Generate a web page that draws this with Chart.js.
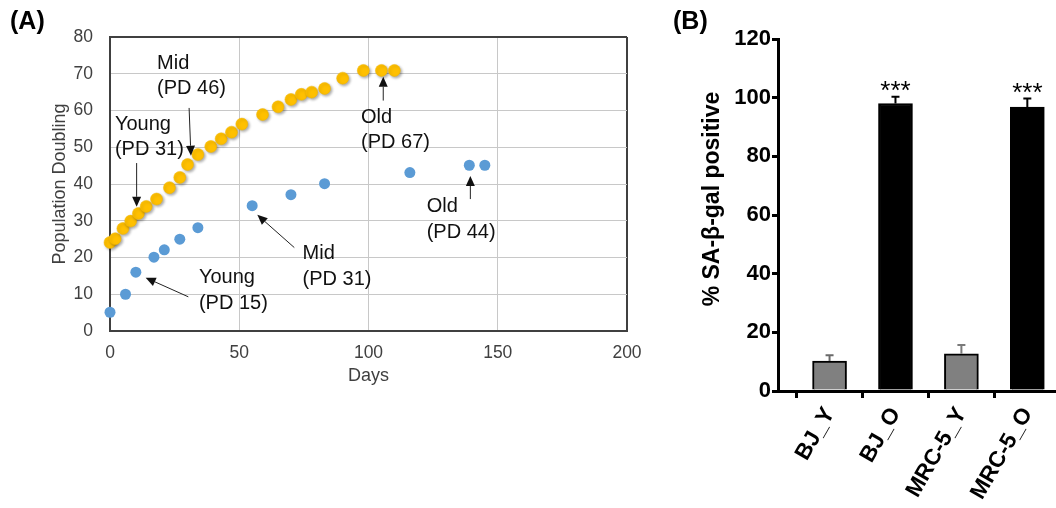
<!DOCTYPE html>
<html><head><meta charset="utf-8">
<script src="https://cdn.jsdelivr.net/npm/chart.js@4.4.1/dist/chart.umd.min.js"></script>
<style>
html,body{margin:0;padding:0;background:#fff;overflow:hidden;width:1056px;height:508px;}
#wa{position:absolute;left:0;top:0;width:660px;height:508px;}
#wb{position:absolute;left:650px;top:0;width:406px;height:508px;}
canvas{display:block;}
</style></head><body>
<div id="wa"><canvas id="ca" width="660" height="508"></canvas></div>
<div id="wb"><canvas id="cb" width="406" height="508"></canvas></div>
<script>
const FONT = '"Liberation Sans", Arial, Helvetica, sans-serif';

// ---------- Panel A data ----------
const yellowDays = [0,2,5,8,11,14,18,23,27,30,34,39,43,47,51,59,65,70,74,78,83,90,98,105,110];
const yellowPD   = [24.1,25.1,27.9,29.9,32.0,33.9,35.9,39.0,41.8,45.3,48.0,50.2,52.3,54.1,56.3,58.9,61.0,63.0,64.4,65.0,66.0,68.8,70.9,70.9,70.9];
const blueDays = [0,6,10,17,21,27,34,55,70,83,116,139,145];
const bluePD   = [5.1,10.0,16.0,20.1,22.1,25.0,28.1,34.1,37.1,40.1,43.1,45.1,45.1];
const xTicksA = [0,50,100,150,200];
const yTicksA = [0,10,20,30,40,50,60,70,80];

// annotation texts with anchor (data units)
const noteLines = [['Mid','(PD 46)'],['Young','(PD 31)'],['Young','(PD 15)'],['Mid','(PD 31)'],['Old','(PD 67)'],['Old','(PD 44)']];
const noteAt    = [[18.2,71.3],[1.9,54.7],[34.4,13.0],[74.5,19.5],[97.1,56.7],[122.5,32.3]];
const arrowFrom = [[30.6,60.7],[10.3,45.7],[30.3,9.3],[71.3,22.7],[105.7,62.7],[139.4,35.9]];
const arrowTo   = [[31.3,47.7],[10.3,33.8],[13.8,14.5],[57.0,31.6],[105.7,69.2],[139.4,42.2]];

// ---------- Panel B data ----------
const groups = ['BJ_Y','BJ_O','MRC-5_Y','MRC-5_O'];
const saMean = [10.2, 98.0, 12.7, 96.8];
const saErr  = [2.0, 2.3, 3.0, 2.9];
const saSig  = ['', '***', '', '***'];
const yTicksB = [0,20,40,60,80,100,120];

const barFill = ['#808080','#000000','#808080','#000000'];
const errColor = ['#6a6a6a','#000000','#7a7a7a','#000000'];

function drawArrow(ctx, x1, y1, x2, y2){
  const ang = Math.atan2(y2-y1, x2-x1);
  const hl = 10, hw = 4.5;
  const bx = x2 - hl*Math.cos(ang), by = y2 - hl*Math.sin(ang);
  ctx.beginPath(); ctx.moveTo(x1,y1); ctx.lineTo(bx,by); ctx.stroke();
  ctx.beginPath();
  ctx.moveTo(x2,y2);
  ctx.lineTo(bx + hw*Math.sin(ang), by - hw*Math.cos(ang));
  ctx.lineTo(bx - hw*Math.sin(ang), by + hw*Math.cos(ang));
  ctx.closePath(); ctx.fill();
}

const shadowPlugin = {
  id:'shadow',
  beforeDatasetDraw(chart, args){
    if(args.index===0){
      const c = chart.ctx; c.save();
      c.shadowColor='rgba(0,0,0,0.35)'; c.shadowBlur=3; c.shadowOffsetX=1.5; c.shadowOffsetY=1.5;
    }
  },
  afterDatasetDraw(chart, args){ if(args.index===0) chart.ctx.restore(); }
};

const notesPlugin = {
  id:'notes',
  afterDatasetsDraw(chart){
    const {ctx, scales:{x,y}} = chart;
    ctx.save();
    ctx.fillStyle='#111'; ctx.strokeStyle='#222'; ctx.lineWidth=1;
    ctx.font='20px '+FONT; ctx.textAlign='left'; ctx.textBaseline='alphabetic';
    noteLines.forEach((lines,i)=>{
      const px = x.getPixelForValue(noteAt[i][0]), py = y.getPixelForValue(noteAt[i][1]);
      lines.forEach((t,j)=>ctx.fillText(t, px, py + j*25.5));
      drawArrow(ctx, x.getPixelForValue(arrowFrom[i][0]), y.getPixelForValue(arrowFrom[i][1]),
                     x.getPixelForValue(arrowTo[i][0]), y.getPixelForValue(arrowTo[i][1]));
    });
    ctx.font='bold 25px '+FONT; ctx.fillStyle='#000';
    ctx.fillText('(A)', 10, 29);
    ctx.restore();
  }
};

const gridColA = c => (c.tick && (c.tick.value===200 && c.scale.axis==='x' || c.tick.value===80 && c.scale.axis==='y')) ? '#404040' : '#c8c8c8';
const gridWA = c => (c.tick && (c.tick.value===200 && c.scale.axis==='x' || c.tick.value===80 && c.scale.axis==='y')) ? 2 : 1;

new Chart(document.getElementById('ca'), {
  type:'scatter',
  data:{datasets:[
    {label:'Yellow', data: yellowDays.map((d,i)=>({x:d, y:yellowPD[i]})), backgroundColor:'#ffc000', borderColor:'#f2b600', borderWidth:0.5, pointRadius:6, clip:false},
    {label:'Blue', data: blueDays.map((d,i)=>({x:d, y:bluePD[i]})), backgroundColor:'#5b9bd5', borderColor:'#5b9bd5', borderWidth:0, pointRadius:5.5, clip:false}
  ]},
  options:{
    responsive:false, animation:false, events:[],
    plugins:{legend:{display:false}, tooltip:{enabled:false}},
    layout:{padding:{left:49, top:37, right:33, bottom:121}},
    scales:{
      x:{type:'linear', min:0, max:200,
        afterBuildTicks: s => { s.ticks = xTicksA.map(v=>({value:v})); },
        ticks:{font:{family:FONT, size:17.5}, color:'#404040', padding:12, maxRotation:0},
        grid:{color:gridColA, lineWidth:gridWA, drawTicks:false},
        border:{color:'#404040', width:2},
        title:{display:true, text:'Days', font:{family:FONT, size:18}, color:'#404040', padding:0},
        afterFit: s => { s.height = 56; }
      },
      y:{min:0, max:80,
        afterBuildTicks: s => { s.ticks = yTicksA.map(v=>({value:v})); },
        ticks:{font:{family:FONT, size:17.5}, color:'#404040', padding:17},
        grid:{color:gridColA, lineWidth:gridWA, drawTicks:false},
        border:{color:'#404040', width:2},
        title:{display:true, text:'Population Doubling', font:{family:FONT, size:18}, color:'#404040', padding:0},
        afterFit: s => { s.width = 61; }
      }
    }
  },
  plugins:[shadowPlugin, notesPlugin]
});

const barExtras = {
  id:'barExtras',
  afterDatasetsDraw(chart){
    const {ctx, scales:{x,y}} = chart;
    ctx.save();
    saMean.forEach((m,i)=>{
      const cx = x.getPixelForValue(i);
      const yb = y.getPixelForValue(m), yt = y.getPixelForValue(m+saErr[i]);
      ctx.strokeStyle = errColor[i]; ctx.lineWidth = 2;
      ctx.beginPath(); ctx.moveTo(cx, yb); ctx.lineTo(cx, yt);
      ctx.moveTo(cx-4, yt); ctx.lineTo(cx+4, yt); ctx.stroke();
      if(saSig[i]){
        ctx.fillStyle='#000'; ctx.font='26px '+FONT; ctx.textAlign='center'; ctx.textBaseline='alphabetic';
        ctx.fillText(saSig[i], cx, yt + 2);
      }
    });
    ctx.fillStyle='#000'; ctx.textAlign='left';
    ctx.font='bold 25px '+FONT; ctx.fillText('(B)', 23, 29);
    ctx.translate(62.5, 199); ctx.rotate(-Math.PI/2);
    ctx.font='bold 23px '+FONT; ctx.textAlign='center'; ctx.textBaseline='middle';
    ctx.fillText('% SA-\u03b2-gal positive', 0, 0);
    ctx.restore();
  }
};

new Chart(document.getElementById('cb'), {
  type:'bar',
  data:{datasets:[{
    label:'% SA-\u03b2-gal positive',
    data: saMean.map((m,i)=>({x:i, y:m})),
    backgroundColor: barFill, borderColor:'#000', borderWidth:2, borderSkipped:'bottom',
    barThickness:34
  }]},
  options:{
    responsive:false, animation:false, events:[],
    plugins:{legend:{display:false}, tooltip:{enabled:false}},
    layout:{padding:{left:0, top:39, right:0, bottom:0}},
    scales:{
      x:{type:'linear', min:-0.782, max:3.435, offset:false,
        afterBuildTicks: s => { s.ticks = groups.map((g,i)=>({value:i})); },
        ticks:{callback: v => groups[v] ?? '', minRotation:60, maxRotation:60, autoSkip:false,
               font:{family:FONT, size:22.5, weight:'bold'}, color:'#000', padding:5},
        grid:{drawOnChartArea:false, drawTicks:true, tickLength:7, lineWidth:3, color:'#000'},
        border:{display:true, color:'#000', width:3},
        afterFit: s => { s.height = 117; }
      },
      y:{min:0, max:120,
        afterBuildTicks: s => { s.ticks = yTicksB.map(v=>({value:v})); },
        ticks:{font:{family:FONT, size:22, weight:'bold'}, color:'#000', padding:1},
        grid:{drawOnChartArea:false, drawTicks:true, tickLength:6, lineWidth:3, color:'#000'},
        border:{display:true, color:'#000', width:3},
        afterFit: s => { s.width = 128; }
      }
    }
  },
  plugins:[barExtras]
});
</script>
</body></html>
